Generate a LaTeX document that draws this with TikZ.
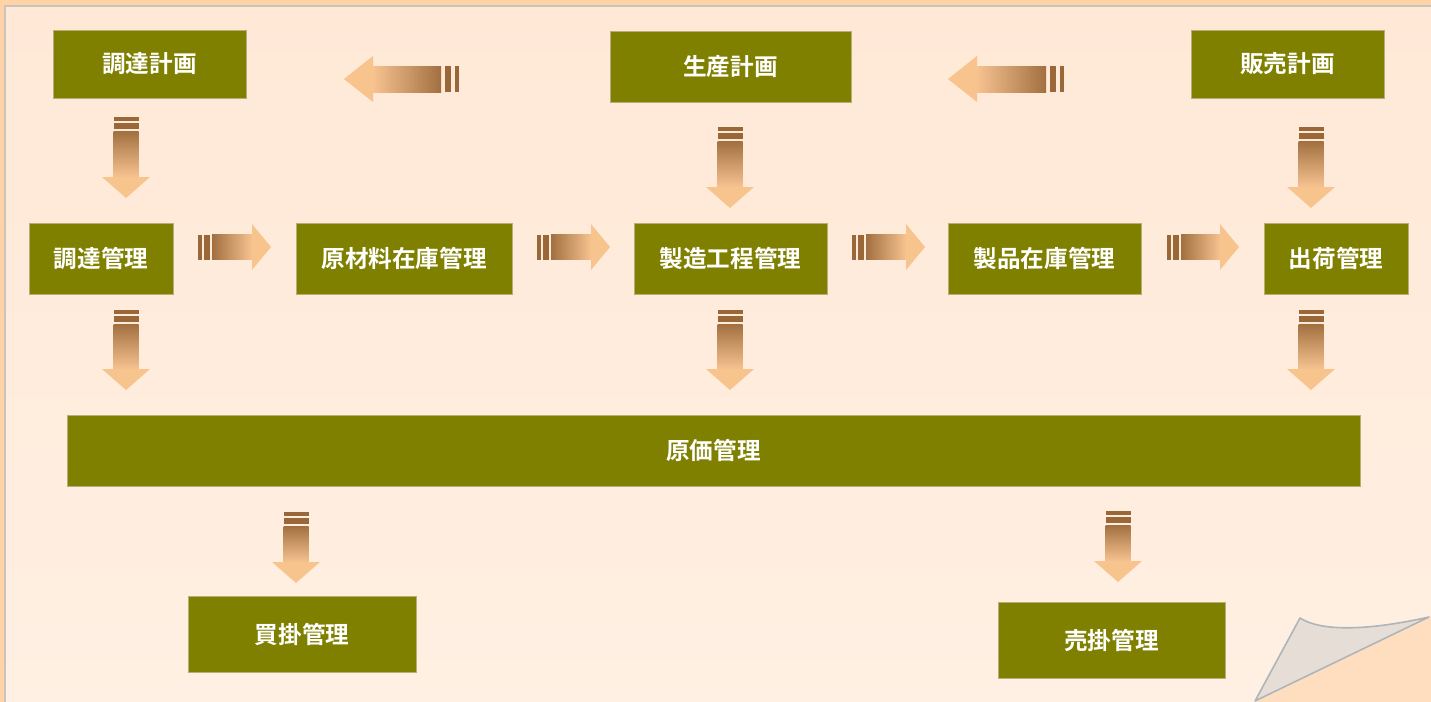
\documentclass[tikz,border=0pt]{standalone}
\usepackage{fontspec}
\newfontfamily\jpfont{Noto Sans CJK JP}[BoldFont={Noto Sans CJK JP Bold}]
\usepackage{tikz}
\usetikzlibrary{calc}

\definecolor{boxfill}{HTML}{808000}
\definecolor{boxedge}{HTML}{B8AE78}
\definecolor{bardark}{HTML}{9A6838}
\definecolor{shaftdark}{HTML}{A27040}
\definecolor{shaftlight}{HTML}{F6C290}
\definecolor{headlight}{HTML}{F8C48E}
\definecolor{pagebg}{HTML}{FFE8D6}
\definecolor{pagebgb}{HTML}{FFF0E3}
\definecolor{pageedge}{HTML}{FFD3A6}
\definecolor{pageline}{HTML}{C8C4C0}
\definecolor{foldbg}{HTML}{FFDDBF}
\definecolor{curlfill}{HTML}{E6DDD6}
\definecolor{curledge}{HTML}{AEB5B8}

% block arrows: start coordinate, length (px), head length (px)
\newcommand{\blockdown}[2]{%
  \begin{scope}[shift={(#1)}]
    \fill[bardark] (-12.5,0) rectangle (12.5,3.5);
    \fill[bardark] (-12.5,6) rectangle (12.5,11.5);
    \shade[top color=shaftdark, bottom color=shaftlight] (-12.5,14) rectangle (12.5,#2-21);
    \fill[headlight] (-24,#2-21) -- (24,#2-21) -- (0,#2) -- cycle;
  \end{scope}}
\newcommand{\blockright}[3]{%
  \begin{scope}[shift={(#1)}]
    \fill[bardark] (0,-12.5) rectangle (3.5,12.5);
    \fill[bardark] (6,-12.5) rectangle (11.5,12.5);
    \shade[left color=shaftdark, right color=shaftlight] (14,-12.5) rectangle (#2-#3,12.5);
    \fill[headlight] (#2-#3,-23) -- (#2-#3,23) -- (#2,0) -- cycle;
  \end{scope}}
\newcommand{\blockleft}[3]{%
  \begin{scope}[shift={(#1)}]
    \fill[bardark] (0,-13) rectangle (-4,13);
    \fill[bardark] (-8,-13) rectangle (-14,13);
    \shade[left color=shaftlight, right color=shaftdark] (-#2+#3,-13) rectangle (-18,13);
    \fill[headlight] (-#2+#3,-23) -- (-#2+#3,23) -- (-#2,0) -- cycle;
  \end{scope}}

\begin{document}
\begin{tikzpicture}[x=0.5pt,y=-0.5pt]
	\tikzset{box/.style = {fill=boxfill, draw=boxedge, line width=0.5pt, inner sep=0pt,
		text=white, font=\jpfont\bfseries\fontsize{11.8}{14}\selectfont}}

	\useasboundingbox (0,0) rectangle (1431,702);

	% paper
	\fill[pageedge] (0,0) rectangle (1431,702);
	\fill[pageline] (4,5) rectangle (1431,702);
	\shade[top color=pagebg, bottom color=pagebgb] (6,7) rectangle (1431,702);
	\fill[foldbg] (1255,702) -- (1431,617) -- (1431,702) -- cycle;
	\draw[curledge, fill=curlfill, line width=0.8pt, line join=round]
		(1255,701) -- (1300,618) .. controls (1325,634) and (1380,628) .. (1429,617) -- cycle;

	% plans
	\node[box, minimum width=96.5pt, minimum height=34pt] (procplan) at (149.5,64) {調達計画};
	\node[box, minimum width=120.5pt, minimum height=35.5pt] (prodplan) at (730.5,66.5) {生産計画};
	\node[box, minimum width=96.5pt, minimum height=34pt] (salesplan) at (1287.5,64) {販売計画};

	% flow
	\node[box, minimum width=72pt, minimum height=35.5pt] (procmgmt) at (101,258.5) {調達管理};
	\node[box, minimum width=108pt, minimum height=35.5pt] (matstock) at (404,258.5) {原材料在庫管理};
	\node[box, minimum width=96.5pt, minimum height=35.5pt] (mfgmgmt) at (730.5,258.5) {製造工程管理};
	\node[box, minimum width=96.5pt, minimum height=35.5pt] (prodstock) at (1044.5,258.5) {製品在庫管理};
	\node[box, minimum width=72pt, minimum height=35.5pt] (shipmgmt) at (1336,258.5) {出荷管理};

	\node[box, minimum width=646.5pt, minimum height=35.5pt] (costmgmt) at (713.5,450.5) {原価管理};

	\node[box, minimum width=114pt, minimum height=38pt] (payable) at (302,634) {買掛管理};
	\node[box, minimum width=113.5pt, minimum height=38pt] (receivable) at (1111.5,640) {売掛管理};

	% arrow starts
	\coordinate (l_1) at (459,79);
	\coordinate (l_2) at (1064,79);
	\coordinate (d_1) at (126,117);
	\coordinate (d_2) at (730,127);
	\coordinate (d_3) at (1311,127);
	\coordinate (d_4) at (126,310);
	\coordinate (d_5) at (730,310);
	\coordinate (d_6) at (1311,310);
	\coordinate (d_7) at (296,512);
	\coordinate (d_8) at (1118,511);
	\coordinate (r_1) at (198,247);
	\coordinate (r_2) at (537,247);
	\coordinate (r_3) at (852,247);
	\coordinate (r_4) at (1167,247);

	\blockleft{l_1}{115}{29}
	\blockleft{l_2}{116}{29}

	\blockdown{d_1}{81}
	\blockdown{d_2}{81}
	\blockdown{d_3}{81}
	\blockdown{d_4}{80}
	\blockdown{d_5}{80}
	\blockdown{d_6}{80}
	\blockdown{d_7}{71}
	\blockdown{d_8}{71}

	\blockright{r_1}{73}{19}
	\blockright{r_2}{73}{19}
	\blockright{r_3}{73}{19}
	\blockright{r_4}{72}{19}
\end{tikzpicture}
\end{document}
